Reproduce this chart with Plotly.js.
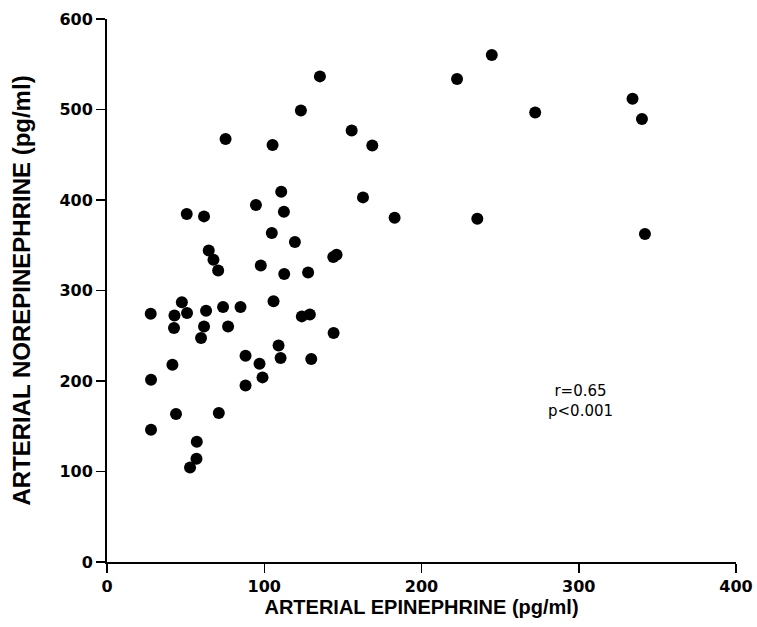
<!DOCTYPE html>
<html>
<head>
<meta charset="utf-8">
<script src="https://cdn.plot.ly/plotly-3.0.1.min.js"></script>
<style>html,body{margin:0;padding:0;background:#fff;}#chart{width:757px;height:627px;}</style>
</head>
<body>
<div id="chart"></div>
<script>
// Arterial epinephrine (pg/ml)
const epinephrine = [135.4,123.3,75.4,105.3,155.6,168.7,110.8,162.8,94.7,112.5,50.7,61.7,104.8,119.5,64.7,67.7,70.7,143.9,146.0,97.8,112.7,127.9,27.8,47.6,42.9,50.9,63.0,73.8,84.9,105.9,123.9,129.0,42.6,61.7,77.0,59.8,144.1,109.1,88.1,97.0,110.4,129.9,41.6,28.0,98.9,88.1,43.9,71.1,28.0,57.1,56.9,52.8,244.7,222.6,272.3,334.2,340.2,182.9,235.5,342.1];
// Arterial norepinephrine (pg/ml)
const norepinephrine = [536.6,499.0,467.4,460.8,476.9,460.3,409.2,402.9,394.5,387.1,384.5,381.9,363.5,353.6,344.3,334.0,322.2,337.0,339.6,327.7,318.2,320.0,274.4,286.9,272.5,275.1,277.7,281.8,281.8,288.0,271.4,273.6,258.6,260.3,260.3,247.5,253.0,239.3,228.0,219.1,225.4,224.3,218.0,201.4,204.0,195.1,163.5,164.6,146.2,132.9,114.1,104.5,560.2,533.7,496.8,511.9,489.5,380.4,379.3,362.4];
const xTicks = [0,100,200,300,400];
const yTicks = [0,100,200,300,400,500,600];
const statsText = ["r=0.65","p<0.001"];

const tickFam = "DejaVu Sans, sans-serif";
const titleFam = "Liberation Sans, Arial, sans-serif";
const trace = {
  x: epinephrine, y: norepinephrine, type: "scatter", mode: "markers",
  marker: {color: "#000", size: 12}, hoverinfo: "skip", cliponaxis: false
};
const layout = {
  width: 757, height: 627,
  margin: {l: 107, r: 21, t: 19, b: 65},
  paper_bgcolor: "#fff", plot_bgcolor: "#fff",
  showlegend: false,
  xaxis: {
    range: [0, 400], tickvals: xTicks, ticktext: xTicks.map(v => "<b>" + v + "</b>"),
    showgrid: false, zeroline: false, showline: true, linecolor: "#000", linewidth: 2,
    ticks: "outside", ticklen: 9, tickwidth: 1.5, tickcolor: "#000",
    tickfont: {family: tickFam, size: 16, color: "#000"},
    title: {text: "<b>ARTERIAL EPINEPHRINE (pg/ml)</b>", font: {family: titleFam, size: 20, color: "#000"}, standoff: 5}
  },
  yaxis: {
    range: [0, 600], tickvals: yTicks, ticktext: yTicks.map(v => "<b>" + v + "</b>"),
    showgrid: false, zeroline: false, showline: true, linecolor: "#000", linewidth: 2,
    ticks: "outside", ticklen: 9, tickwidth: 1.5, tickcolor: "#000",
    tickfont: {family: tickFam, size: 16, color: "#000"},
    title: {text: "<b>ARTERIAL NOREPINEPHRINE (pg/ml)</b>", font: {family: titleFam, size: 24, color: "#000"}, standoff: 22}
  },
  annotations: [
    {x: 301, y: 178.2, xref: "x", yref: "y", showarrow: false, text: statsText.join("<br>"),
     align: "center", font: {family: tickFam, size: 15, color: "#000"}}
  ]
};
Plotly.newPlot("chart", [trace], layout, {staticPlot: true, displayModeBar: false});
</script>
</body>
</html>
